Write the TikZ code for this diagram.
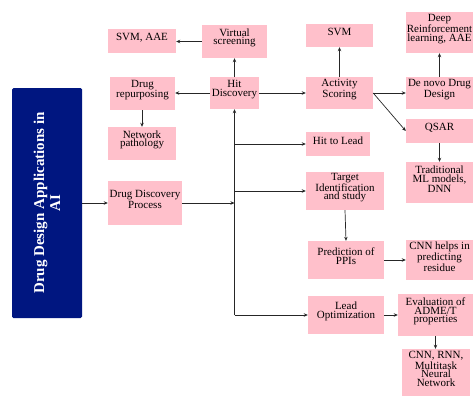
\documentclass[tikz,border=0pt]{standalone}
\usepackage{fontspec}
\setmainfont{Liberation Serif}
\newfontfamily\tnr{Liberation Serif}
\usetikzlibrary{arrows.meta}
\definecolor{boxpink}{RGB}{255,192,203}
\definecolor{navy}{RGB}{0,22,128}
\begin{document}
\begin{tikzpicture}[x=1pt,y=-1pt,
  box/.style={fill=boxpink, draw=none, inner sep=0pt},
  boxtext/.style={inner sep=0pt, align=center, font=\tnr\fontsize{11}{8.7}\selectfont},
  arr/.style={-{Stealth[length=4pt,width=3.5pt]}, line width=0.7pt, draw=black!85}]
\useasboundingbox (0,0) rectangle (473,396);
% helper macro: box name, x1, y1, x2, y2, text
\newcommand\bx[6]{\node[box, minimum width=#4-#2, minimum height=#5-#3] (#1) at ({(#2+#4)/2},{(#3+#5)/2}) {};
  \node[boxtext] (#1-t) at ([yshift=3.5pt]#1.center) {#6};}
\node[fill=navy, rounded corners=1.5pt, minimum width=70, minimum height=230, inner sep=0pt] (main) at (47,203) {};
\node[rotate=90, text=white, align=center, font=\tnr\fontsize{15}{16}\selectfont\bfseries] (maintext) at (main.center) {Drug Design Applications in\\AI};
\bx{svmaae}{108}{29}{176}{53}{SVM, AAE}
\bx{vs}{202}{25}{267}{58}{Virtual\\screening}
\bx{dr}{110}{77}{175}{110}{Drug\\repurposing}
\bx{hit}{210}{77}{259}{109}{Hit\\Discovery}
\bx{np}{108}{127}{176}{160}{Network\\pathology}
\bx{ddp}{108}{181}{182}{225}{Drug Discovery\\Process}
\bx{svm}{306}{24}{373}{47}{SVM}
\bx{as}{306}{77}{373}{109}{Activity\\Scoring}
\bx{drl}{406}{12}{473}{53}{Deep\\Reinforcement\\learning, AAE}
\bx{dn}{406}{77}{473}{109}{De novo Drug\\Design}
\bx{qsar}{406}{119}{473}{143}{QSAR}
\bx{htl}{306}{132}{370}{156}{Hit to Lead}
\bx{ti}{306}{172}{384}{210}{Target\\Identification\\and study}
\bx{tml}{406}{162}{473}{203}{Traditional\\ML models,\\DNN}
\bx{ppi}{308}{241}{384}{279}{Prediction of\\PPIs}
\bx{cnnh}{406}{240}{473}{280}{CNN helps in\\predicting\\residue}
\bx{lo}{308}{296}{384}{334}{Lead\\Optimization}
\bx{adme}{398}{294}{473}{336}{Evaluation of\\ADME/T\\properties}
\bx{crnn}{402}{349}{470}{396}{CNN, RNN,\\Multitask\\Neural\\Network}
\coordinate (tb) at (hit.south |- lo.west);
% connectors
\draw[arr] (main.east |- ddp.west) -- (ddp.west);
\draw[arr] (ddp.east) -- (ddp.east -| tb);
\draw[arr] (tb) -- (hit.south);
\draw[arr] (tb) -- (lo.west);
\draw[arr] (hit.south |- htl.west) -- (htl.west);
\draw[arr] (hit.south |- ti.west) -- (ti.west);
\draw[arr] (hit.north) -- (vs.south);
\draw[arr] (vs.west) -- (svmaae.east |- vs.west);
\draw[arr] (hit.west) -- (dr.east |- hit.west);
\draw[arr] (dr.south -| np.north) -- (np.north);
\draw[arr] (hit.east) -- (as.west);
\draw[arr] (as.north) -- (svm.south);
\draw[arr] (as.east) -- (dn.west);
\draw[arr] (as.east) -- (qsar.west);
\draw[arr] (dn.north) -- (drl.south);
\draw[arr] (qsar.south) -- (tml.north);
\draw[arr] (ti.south) -- (ppi.north);
\draw[arr] (ppi.east) -- (cnnh.west |- ppi.east);
\draw[arr] (lo.east) -- (adme.west |- lo.east);
\draw[arr] (adme.south) -- (crnn.north -| adme.south);
\end{tikzpicture}
\end{document}
